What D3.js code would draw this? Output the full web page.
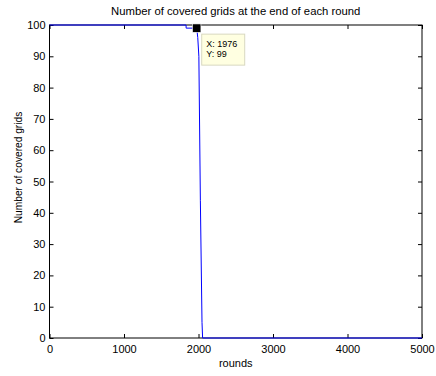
<!DOCTYPE html>
<html>
<head>
<meta charset="utf-8">
<script src="https://cdn.jsdelivr.net/npm/d3@7"></script>
<style>
  body { margin: 0; background: #fff; }
  svg { display: block; font-family: "Liberation Sans", Arial, sans-serif; }
  .tick text { font-size: 11px; fill: #000; }
</style>
</head>
<body>
<div id="chart"></div>
<script>
// covered grids per round (breakpoints only)
var rounds  = [0,   1833, 1834, 1976, 1990, 2005, 2025, 2047, 2055, 5000];
var covered = [100, 100,  99,   99,   96,   90,   44,   5,    0,    0];

var xTicks = [0, 1000, 2000, 3000, 4000, 5000];
var yTicks = [0, 10, 20, 30, 40, 50, 60, 70, 80, 90, 100];

var tipPoint = {x: 1976, y: 99};

var width = 436, height = 376;
var margin = {top: 25, right: 14, bottom: 38, left: 49.5};
var w = width - margin.left - margin.right,
    h = height - margin.top - margin.bottom;

var svg = d3.select("#chart").append("svg")
  .attr("width", width)
  .attr("height", height);

var g = svg.append("g")
  .attr("transform", "translate(" + margin.left + "," + margin.top + ")");

var x = d3.scaleLinear().domain([0, 5000]).range([0, w]);
var y = d3.scaleLinear().domain([0, 100]).range([h, 0]);

// axes, MATLAB style ticks pointing inward on all four sides
g.append("g")
  .attr("transform", "translate(0," + h + ")")
  .call(d3.axisBottom(x).tickValues(xTicks).tickSize(-4).tickPadding(7).tickFormat(d3.format("d")));
g.append("g")
  .call(d3.axisTop(x).tickValues(xTicks).tickSize(-4).tickFormat(""));
g.append("g")
  .call(d3.axisLeft(y).tickValues(yTicks).tickSize(-4).tickPadding(4));
g.append("g")
  .attr("transform", "translate(" + w + ",0)")
  .call(d3.axisRight(y).tickValues(yTicks).tickSize(-4).tickFormat(""));

g.selectAll(".domain").remove();
g.selectAll(".tick line").attr("stroke", "#000");

g.append("rect")
  .attr("width", w)
  .attr("height", h)
  .attr("fill", "none")
  .attr("stroke", "#000")
  .attr("stroke-width", 1);

// the data line
var line = d3.line()
  .x(function (d, i) { return x(rounds[i]); })
  .y(function (d) { return y(d); });

g.append("path")
  .datum(covered)
  .attr("d", line)
  .attr("fill", "none")
  .attr("stroke", "#0000ff")
  .attr("stroke-width", 1);

// data tip
var tx = x(tipPoint.x), ty = y(tipPoint.y);
g.append("rect")
  .attr("x", tx - 4.2)
  .attr("y", ty - 4.2)
  .attr("width", 8.4)
  .attr("height", 8.4)
  .attr("fill", "#000")
  .attr("stroke", "#fff")
  .attr("stroke-width", 0.6);

var tip = g.append("g")
  .attr("transform", "translate(" + (tx + 5) + "," + (ty + 6) + ")");
tip.append("rect")
  .attr("width", 43)
  .attr("height", 31)
  .attr("fill", "#ffffe1")
  .attr("stroke", "#d8d8c0");
tip.append("text")
  .attr("x", 4.5)
  .attr("y", 12.5)
  .attr("font-size", 9)
  .text("X: " + tipPoint.x);
tip.append("text")
  .attr("x", 4.5)
  .attr("y", 22.5)
  .attr("font-size", 9)
  .text("Y: " + tipPoint.y);

// titles
svg.append("text")
  .attr("x", margin.left + w / 2)
  .attr("y", 14.5)
  .attr("text-anchor", "middle")
  .attr("font-size", 11.3)
  .text("Number of covered grids at the end of each round");

svg.append("text")
  .attr("x", margin.left + w / 2)
  .attr("y", 366.5)
  .attr("text-anchor", "middle")
  .attr("font-size", 11)
  .text("rounds");

svg.append("text")
  .attr("transform", "translate(22,167.5) rotate(-90)")
  .attr("text-anchor", "middle")
  .attr("font-size", 10.2)
  .text("Number of covered grids");
</script>
</body>
</html>
